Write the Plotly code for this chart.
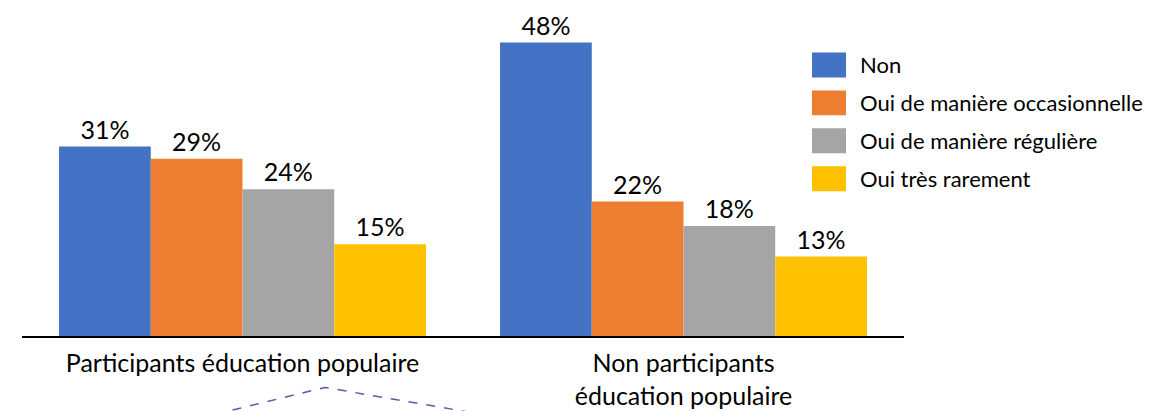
import plotly.graph_objects as go

categories = ["Participants éducation populaire", "Non participants<br>éducation populaire"]
series_names = ["Non", "Oui de manière occasionnelle", "Oui de manière régulière", "Oui très rarement"]
series_values = [
    [31, 48],
    [29, 22],
    [24, 18],
    [15, 13],
]
colors = ["#4472C4", "#ED7D31", "#A5A5A5", "#FFC000"]

FONT = "Lato, Calibri, Carlito, sans-serif"

# page is drawn with an 8px body margin, so size figure to fit the window
W, H = 1164, 403
L, R, T, B = 14, 268, 12, 74.5
PW, PH = W - L - R, H - T - B


def px_x(x):
    # page pixel -> paper x
    return (x - 8 - L) / PW


def px_y(y):
    # page pixel -> paper y
    return (H - B - (y - 8)) / PH


fig = go.Figure()
for name, vals, col in zip(series_names, series_values, colors):
    fig.add_trace(
        go.Bar(
            x=categories,
            y=vals,
            name=name,
            marker_color=col,
            marker_line_width=0,
            text=[f"{v}%" for v in vals],
            textposition="outside",
            textfont=dict(size=25, color="#000000", family=FONT),
            cliponaxis=False,
            showlegend=False,
        )
    )

# legend drawn by hand to get the large swatches
for i, (name, col) in enumerate(zip(series_names, colors)):
    cy = 65 + 38 * i
    fig.add_shape(
        type="rect",
        xref="paper",
        yref="paper",
        x0=px_x(812),
        x1=px_x(846),
        y0=px_y(cy + 12.5),
        y1=px_y(cy - 12.5),
        fillcolor=col,
        line_width=0,
    )
    fig.add_annotation(
        xref="paper",
        yref="paper",
        x=px_x(858),
        y=px_y(cy),
        xanchor="left",
        yanchor="middle",
        text=name,
        showarrow=False,
        font=dict(size=22, color="#000000", family=FONT),
    )

# dashed callout line under the first category
fig.add_shape(
    type="path",
    path=(
        f"M {px_x(215)},{px_y(415)} L {px_x(325)},{px_y(388)} "
        f"L {px_x(482)},{px_y(415)}"
    ),
    xref="paper",
    yref="paper",
    line=dict(color="#5A5AA8", width=1.5, dash="dash"),
)

fig.update_layout(
    width=W,
    height=H,
    margin=dict(l=L, r=R, t=T, b=B, autoexpand=False),
    paper_bgcolor="white",
    plot_bgcolor="white",
    barmode="group",
    bargap=0.168,
    bargroupgap=0,
    font=dict(family=FONT, color="#000000"),
    showlegend=False,
)
fig.update_xaxes(
    showline=True,
    linecolor="#000000",
    linewidth=2,
    ticks="",
    tickfont=dict(size=25, family=FONT),
    ticklabelstandoff=4,
    showgrid=False,
    automargin=False,
)
fig.update_yaxes(
    visible=False,
    range=[0, 51.7],
    showgrid=False,
    zeroline=False,
)

fig.write_html("out.html")
